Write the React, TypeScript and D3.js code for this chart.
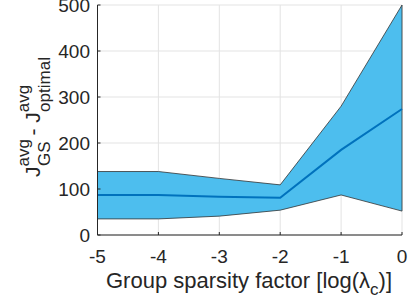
import * as d3 from "d3"

// log(lambda_c) values on the x axis
const lambdaLog = [-5, -4, -3, -2, -1, 0]
// band and mean of J_GS - J_optimal
const upperVals = [138, 138, 123, 109, 280, 500]
const meanVals = [87, 87, 83, 81, 185, 274]
const lowerVals = [35, 35, 41, 54, 87, 52]

const xTicks = [-5, -4, -3, -2, -1, 0]
const yTicks = [0, 100, 200, 300, 400, 500]

const W = 410
const H = 306
const margin = { top: 5, right: 8, bottom: 71, left: 97.5 }

const App = () => {
  const x = d3
    .scaleLinear()
    .domain([-5, 0])
    .range([margin.left, W - margin.right])
  const y = d3
    .scaleLinear()
    .domain([0, 500])
    .range([H - margin.bottom, margin.top])

  const rows = lambdaLog.map((l, i) => ({
    l,
    lo: lowerVals[i],
    hi: upperVals[i],
    m: meanVals[i]
  }))

  const area = d3
    .area<(typeof rows)[0]>()
    .x(d => x(d.l))
    .y0(d => y(d.lo))
    .y1(d => y(d.hi))
  const upper = d3
    .line<(typeof rows)[0]>()
    .x(d => x(d.l))
    .y(d => y(d.hi))
  const lower = d3
    .line<(typeof rows)[0]>()
    .x(d => x(d.l))
    .y(d => y(d.lo))
  const mean = d3
    .line<(typeof rows)[0]>()
    .x(d => x(d.l))
    .y(d => y(d.m))

  const font = "Liberation Sans, Arial, Helvetica, sans-serif"
  const x0 = x.range()[0]
  const y0 = y.range()[0]

  return (
    <svg
      width={W}
      height={H}
      style={{ position: "absolute", left: 0, top: 0 }}
      fontFamily={font}
    >
      <rect width={W} height={H} fill="#fff" />
      {/* grid */}
      {xTicks.map(t => (
        <line
          key={"gx" + t}
          x1={x(t)}
          x2={x(t)}
          y1={y.range()[1]}
          y2={y0}
          stroke="#e3e3e3"
          strokeWidth={1}
        />
      ))}
      {yTicks.map(t => (
        <line
          key={"gy" + t}
          x1={x0}
          x2={x.range()[1]}
          y1={y(t)}
          y2={y(t)}
          stroke="#e3e3e3"
          strokeWidth={1}
        />
      ))}

      {/* band */}
      <path d={area(rows) ?? ""} fill="#4DBEEE" />
      <path d={upper(rows) ?? ""} fill="none" stroke="#333" strokeWidth={0.8} />
      <path d={lower(rows) ?? ""} fill="none" stroke="#333" strokeWidth={0.8} />
      <line
        x1={x(0)}
        x2={x(0)}
        y1={y(lowerVals[5])}
        y2={y(upperVals[5])}
        stroke="#333"
        strokeWidth={0.8}
      />
      <path d={mean(rows) ?? ""} fill="none" stroke="#0072BD" strokeWidth={2} />

      {/* axes */}
      <line x1={x0} x2={x0} y1={y.range()[1]} y2={y0} stroke="#262626" strokeWidth={1} />
      <line x1={x0} x2={x.range()[1]} y1={y0} y2={y0} stroke="#262626" strokeWidth={1} />
      {xTicks.map(t => (
        <g key={"tx" + t}>
          <line x1={x(t)} x2={x(t)} y1={y0} y2={y0 - 3} stroke="#262626" />
          <text
            x={x(t)}
            y={263}
            textAnchor="middle"
            fontSize={19}
            fill="#262626"
          >
            {t}
          </text>
        </g>
      ))}
      {yTicks.map(t => (
        <g key={"ty" + t}>
          <line x1={x0} x2={x0 + 3} y1={y(t)} y2={y(t)} stroke="#262626" />
          <text
            x={90}
            y={y(t) + 7}
            textAnchor="end"
            fontSize={19}
            fill="#262626"
          >
            {t}
          </text>
        </g>
      ))}

      {/* x label */}
      <text x={249} y={288} textAnchor="middle" fontSize={22} fill="#262626">
        Group sparsity factor [log(λ
        <tspan dy={7} fontSize={17}>c</tspan>
        <tspan dy={-7}>)]</tspan>
      </text>

      {/* y label */}
      <text
        transform={`translate(40,${(y.range()[0] + y.range()[1]) / 2 - 3}) rotate(-90)`}
        textAnchor="middle"
        fontSize={21}
        fill="#262626"
      >
        J<tspan dy={-11} fontSize={17}>avg</tspan>
        <tspan dx={-27} dy={21} fontSize={17}>GS</tspan>
        <tspan dy={-10}> - J</tspan>
        <tspan dy={-11} fontSize={17}>avg</tspan>
        <tspan dx={-27} dy={21} fontSize={17}>optimal</tspan>
      </text>
    </svg>
  )
}

export default App
